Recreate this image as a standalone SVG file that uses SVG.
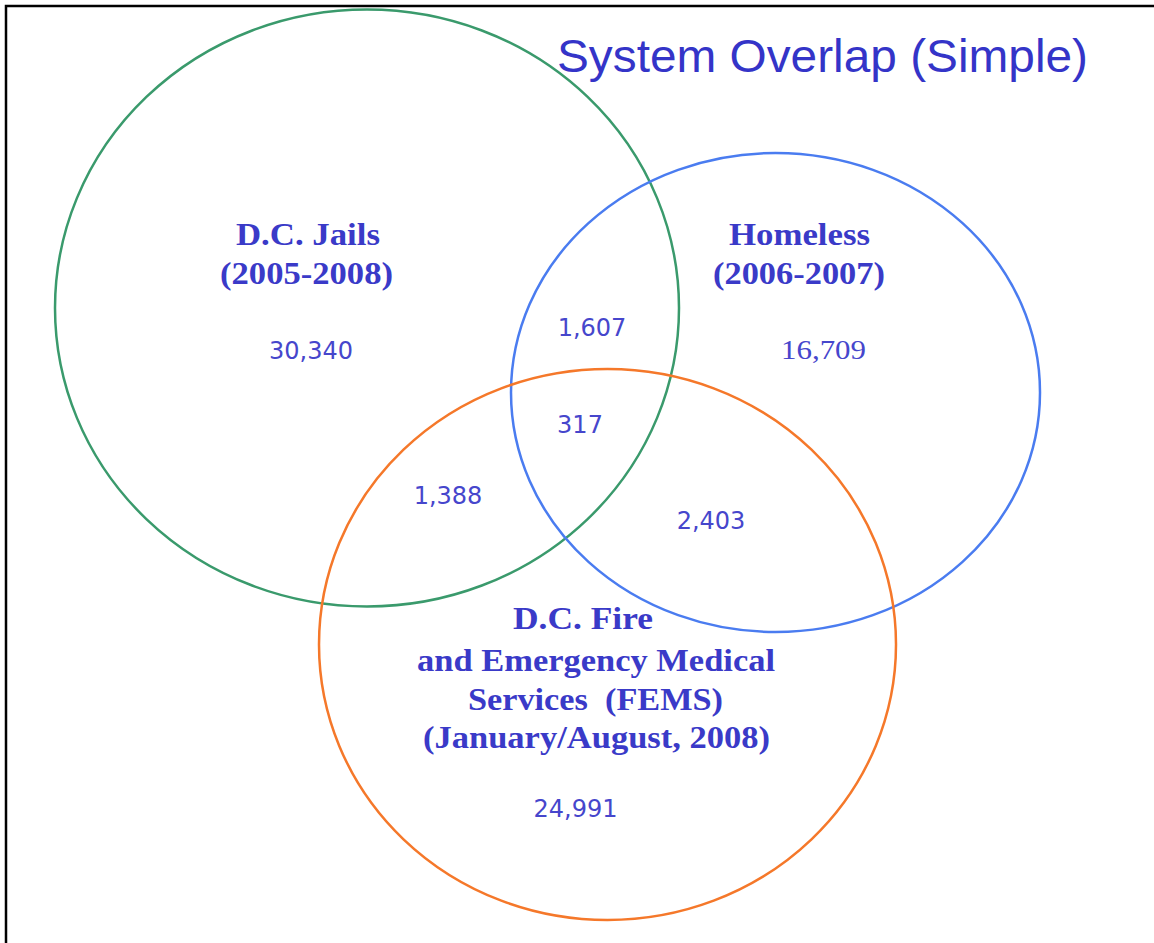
<svg xmlns="http://www.w3.org/2000/svg" width="1154" height="943" viewBox="0 0 1154 943">
<style>
.set{fill:none;stroke-width:2.5}
.lbl{font-family:"Liberation Serif","Times New Roman",serif;font-weight:bold;font-size:31px;fill:#3a3ac8;text-anchor:middle}
.num{font-family:"DejaVu Sans",Verdana,sans-serif;font-size:24px;fill:#4646cc;text-anchor:middle}
.numS{font-family:"Liberation Serif","Times New Roman",serif;font-size:27px;fill:#4646cc;text-anchor:middle}
.title{font-family:"Liberation Sans",Arial,sans-serif;font-size:47px;fill:#3434c8}
</style>
<rect x="0" y="0" width="1154" height="943" fill="#ffffff"/>
<path d="M6,943 V6 H1154" fill="none" stroke="#000000" stroke-width="2.5"/>
<text class="title" x="557" y="72" textLength="531" lengthAdjust="spacingAndGlyphs">System Overlap (Simple)</text>
<g id="jails">
<ellipse class="set" cx="367" cy="308" rx="312" ry="298.5" stroke="#3a9a6c"/>
<text class="lbl" x="308" y="245" textLength="144" lengthAdjust="spacingAndGlyphs">D.C. Jails</text>
<text class="lbl" x="306.5" y="284" textLength="173" lengthAdjust="spacingAndGlyphs">(2005-2008)</text>
<text class="num" x="311" y="359">30,340</text>
</g>
<g id="homeless">
<ellipse class="set" cx="775.5" cy="392.5" rx="264.5" ry="239.5" stroke="#4a7cf0"/>
<text class="lbl" x="799.5" y="245" textLength="141" lengthAdjust="spacingAndGlyphs">Homeless</text>
<text class="lbl" x="799" y="284" textLength="172" lengthAdjust="spacingAndGlyphs">(2006-2007)</text>
<text class="numS" x="823.5" y="359" textLength="85" lengthAdjust="spacingAndGlyphs">16,709</text>
</g>
<g id="fems">
<ellipse class="set" cx="607.5" cy="644.5" rx="288.5" ry="275.5" stroke="#f5782a"/>
<text class="lbl" x="583" y="629" textLength="140" lengthAdjust="spacingAndGlyphs">D.C. Fire</text>
<text class="lbl" x="596" y="671" textLength="358" lengthAdjust="spacingAndGlyphs">and Emergency Medical</text>
<text class="lbl" x="595.5" y="710" textLength="255" lengthAdjust="spacingAndGlyphs" xml:space="preserve">Services  (FEMS)</text>
<text class="lbl" x="596.5" y="748" textLength="347" lengthAdjust="spacingAndGlyphs">(January/August, 2008)</text>
<text class="num" x="575.5" y="817">24,991</text>
</g>
<g id="overlaps">
<text class="num" x="592" y="336">1,607</text>
<text class="num" x="580" y="433">317</text>
<text class="num" x="448" y="504">1,388</text>
<text class="num" x="711" y="529">2,403</text>
</g>
</svg>
